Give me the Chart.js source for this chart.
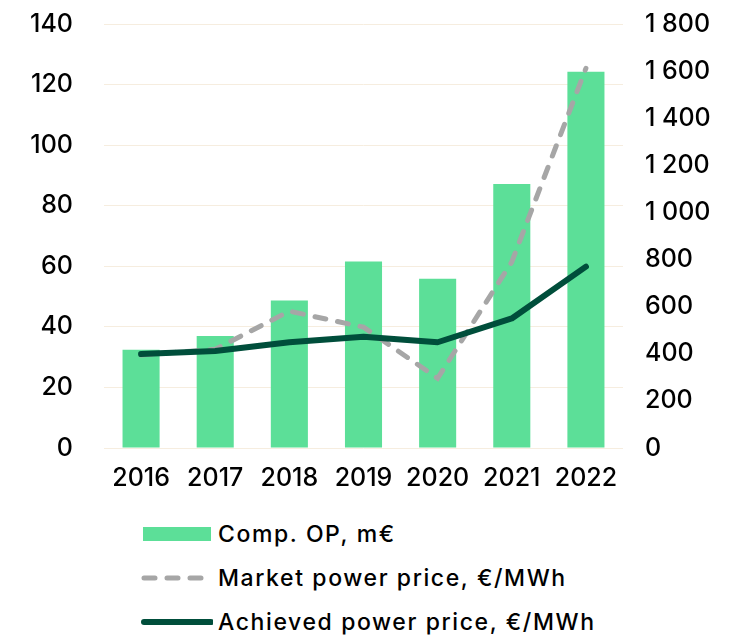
<!DOCTYPE html>
<html>
<head>
<meta charset="utf-8">
<script src="https://cdn.jsdelivr.net/npm/chart.js@4.4.1/dist/chart.umd.min.js"></script>
<style>
  body { margin: 0; background: #fff; font-family: Inter, sans-serif; }
  #wrap { position: relative; width: 741px; height: 500px; }
  #legend { position: absolute; left: 141px; top: 512px; }
  .row { display: flex; align-items: center; height: 44px; font-size: 23px; font-weight: 500; letter-spacing: 1.6px; color: #000; }
  .row svg { margin-right: 5px; }
</style>
</head>
<body>
<div id="wrap"><canvas id="chart"></canvas></div>
<div id="legend"></div>
<script>
const years = ["2016", "2017", "2018", "2019", "2020", "2021", "2022"];
const compOP = [32.4, 37, 48.7, 61.6, 55.9, 87.2, 124.2];
const marketPrice = [395, 419, 581, 513, 296, 790, 1612];
const achievedPrice = [399, 412, 449, 472, 449, 550, 770];
const leftTicks = [0, 20, 40, 60, 80, 100, 120, 140];
const rightTicks = [0, 200, 400, 600, 800, 1000, 1200, 1400, 1600, 1800];

const green = "#5cdf98";
const gray = "#a6a6a6";
const dark = "#004e3b";
const font = { family: "Inter", size: 25, weight: 500 };

function fmt(v) {
  return v >= 1000 ? Math.floor(v / 1000) + " " + String(v % 1000).padStart(3, "0") : String(v);
}

const ctx = document.getElementById("chart").getContext("2d");
new Chart(ctx, {
  data: {
    labels: years,
    datasets: [
      {
        type: "line", label: "Achieved power price, €/MWh", data: achievedPrice, yAxisID: "y1",
        borderColor: dark, borderWidth: 6, pointRadius: 0, tension: 0, order: 0,
        borderCapStyle: "round", borderJoinStyle: "round"
      },
      {
        type: "line", label: "Market power price, €/MWh", data: marketPrice, yAxisID: "y1",
        borderColor: gray, borderWidth: 5, borderDash: [11, 12], borderCapStyle: "round",
        pointRadius: 0, tension: 0, order: 1
      },
      {
        type: "bar", label: "Comp. OP, m€", data: compOP, yAxisID: "y",
        backgroundColor: green, barPercentage: 0.5, categoryPercentage: 1, order: 2
      }
    ]
  },
  options: {
    responsive: true,
    maintainAspectRatio: false,
    animation: false,
    layout: { padding: { top: 24, left: 0, right: 0, bottom: 0 } },
    plugins: { legend: { display: false }, tooltip: { enabled: false } },
    scales: {
      x: {
        grid: { display: false },
        border: { display: false },
        ticks: { color: "#000", font: font, padding: 7, maxRotation: 0 },
        afterFit: s => { s.height = 52; }
      },
      y: {
        position: "left", min: 0, max: 140,
        afterBuildTicks: s => { s.ticks = leftTicks.map(v => ({ value: v })); },
        // ticks are invisible, the length only pushes the labels out
        grid: { color: "#f6eddf", lineWidth: 1, drawTicks: true, tickLength: 28, tickColor: "transparent" },
        border: { display: false },
        ticks: { color: "#000", font: font, padding: 3 },
        afterFit: s => { s.width = 104; }
      },
      y1: {
        position: "right", min: 0, max: 1800,
        afterBuildTicks: s => { s.ticks = rightTicks.map(v => ({ value: v })); },
        grid: { drawOnChartArea: false, drawTicks: true, tickLength: 19, tickColor: "transparent", color: "transparent" },
        border: { display: false },
        ticks: { color: "#000", font: font, padding: 3, callback: v => fmt(v) },
        afterFit: s => { s.width = 118; }
      }
    }
  }
});

// legend below the chart, one entry per row
const legendItems = [
  { label: "Comp. OP, m€", svg: '<svg width="72" height="16"><rect x="2" y="1" width="68" height="14" fill="' + green + '"/></svg>' },
  { label: "Market power price, €/MWh", svg: '<svg width="72" height="16"><line x1="3" y1="8" x2="66" y2="8" stroke="' + gray + '" stroke-width="5" stroke-linecap="round" stroke-dasharray="11 12"/></svg>' },
  { label: "Achieved power price, €/MWh", svg: '<svg width="72" height="16"><line x1="3" y1="8" x2="70" y2="8" stroke="' + dark + '" stroke-width="6" stroke-linecap="round"/></svg>' }
];
const legend = document.getElementById("legend");
legendItems.forEach(item => {
  const row = document.createElement("div");
  row.className = "row";
  row.innerHTML = item.svg + "<span>" + item.label + "</span>";
  legend.appendChild(row);
});
</script>
</body>
</html>
